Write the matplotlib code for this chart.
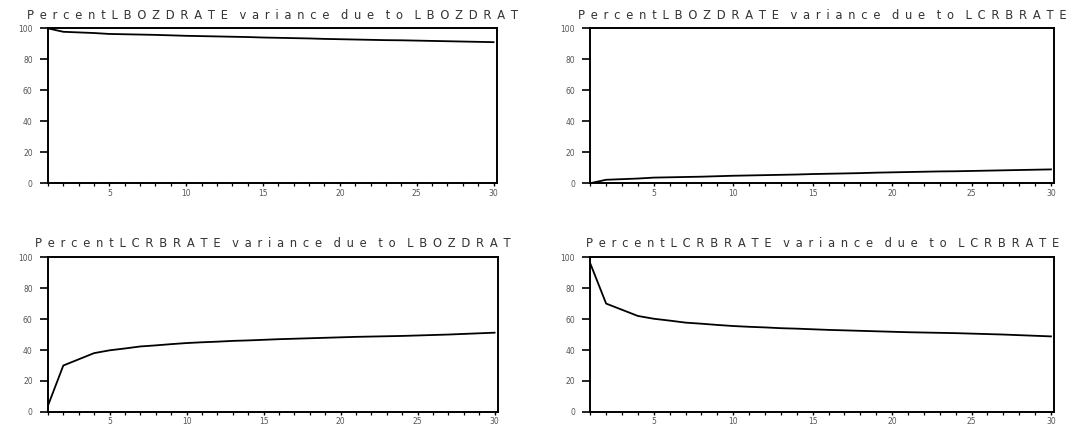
import matplotlib.pyplot as plt
from matplotlib.ticker import MultipleLocator

# forecast horizon
periods = list(range(1, 31))

# variance decomposition, percent
bozd_due_bozd = [100.0, 97.8, 97.4, 97.0, 96.4, 96.2, 96.0, 95.8, 95.5, 95.2,
                 95.0, 94.8, 94.6, 94.4, 94.1, 93.9, 93.7, 93.5, 93.2, 93.0,
                 92.8, 92.6, 92.4, 92.3, 92.1, 91.9, 91.7, 91.5, 91.3, 91.1]
bozd_due_crb = [0.0, 2.2, 2.6, 3.0, 3.6, 3.8, 4.0, 4.2, 4.5, 4.8,
                5.0, 5.2, 5.4, 5.6, 5.9, 6.1, 6.3, 6.5, 6.8, 7.0,
                7.2, 7.4, 7.6, 7.7, 7.9, 8.1, 8.3, 8.5, 8.7, 8.9]
crb_due_bozd = [4.0, 30.0, 34.0, 38.0, 39.8, 41.0, 42.3, 43.0, 43.8, 44.5,
                45.0, 45.4, 45.9, 46.2, 46.6, 47.0, 47.3, 47.6, 47.9, 48.2,
                48.5, 48.7, 48.9, 49.1, 49.4, 49.7, 50.0, 50.4, 50.8, 51.2]
crb_due_crb = [96.0, 70.0, 66.0, 62.0, 60.2, 59.0, 57.7, 57.0, 56.2, 55.5,
               55.0, 54.6, 54.1, 53.8, 53.4, 53.0, 52.7, 52.4, 52.1, 51.8,
               51.5, 51.3, 51.1, 50.9, 50.6, 50.3, 50.0, 49.6, 49.2, 48.8]

titles = ["Percent LBOZDRATE variance due to LBOZDRAT",
          "Percent LBOZDRATE variance due to LCRBRATE",
          "Percent LCRBRATE variance due to LBOZDRAT",
          "Percent LCRBRATE variance due to LCRBRATE"]
series = [bozd_due_bozd, bozd_due_crb, crb_due_bozd, crb_due_crb]

# axes rectangles in figure fractions
boxes = [[0.044, 0.574, 0.412, 0.360],
         [0.542, 0.574, 0.426, 0.360],
         [0.044, 0.042, 0.413, 0.360],
         [0.542, 0.042, 0.426, 0.360]]

EN = "\u2002"


def spaced(text):
    # letters spread out, a wider gap between words
    words = text.split(" ")
    first = EN.join(words[0] + words[1])
    return (EN * 2).join([first] + [EN.join(w) for w in words[2:]])


fig = plt.figure(figsize=(10.89, 4.30), dpi=100)

for box, title, values in zip(boxes, titles, series):
    ax = fig.add_axes(box)
    ax.plot(periods, values, color="black", linewidth=1.3)
    ax.set_xlim(1, 30.2)
    ax.set_ylim(0, 100)
    ax.xaxis.set_major_locator(MultipleLocator(5))
    ax.xaxis.set_minor_locator(MultipleLocator(1))
    ax.yaxis.set_major_locator(MultipleLocator(20))
    ax.tick_params(axis="y", which="major", length=6, width=1.2,
                   labelsize=5.5, labelcolor="#555555", pad=5)
    ax.tick_params(axis="x", which="major", length=2.5, width=1.0,
                   labelsize=5.5, labelcolor="#555555", pad=1.5)
    ax.tick_params(axis="x", which="minor", length=2.5, width=0.9)
    for s in ax.spines.values():
        s.set_linewidth(1.4)
    ax.set_title(spaced(title), fontsize=8.3, color="#333333", pad=7)

fig.savefig("out.png", dpi=100, facecolor="white")
